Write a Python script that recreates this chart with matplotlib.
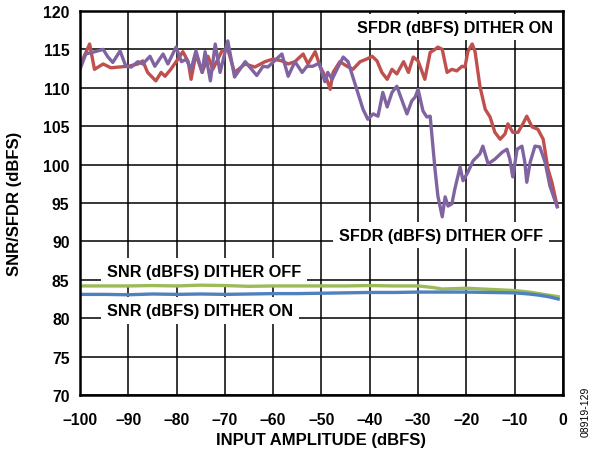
import numpy as np
import matplotlib
matplotlib.use('Agg')
import matplotlib.pyplot as plt

plt.rcParams['font.family'] = ['Liberation Sans', 'DejaVu Sans']
plt.rcParams['font.weight'] = 'bold'

### SFDR dither on (red)
sfdr_on_x = [-100, -98, -97, -95.2, -93.6, -92, -90, -88, -87, -86, -84.3, -83.2, -82.4, -81.2,
             -79.7, -78.7, -77.6, -77, -76, -74.7, -73.5, -72.5, -70.6, -69.4, -68, -65.8, -63.8,
             -61.7, -60, -58.2, -56.9, -55.5, -53.8, -52.8, -51.3, -50.3, -48.9, -48.2, -47.6,
             -46.2, -44.7, -43.5, -42, -40.6, -39.5, -38.5, -37.5, -36.4, -35.4, -34.4, -33, -32,
             -31, -30, -28.6, -27.5, -26.5, -25.9, -25, -24, -23, -22, -20.9, -20.3, -19.7, -18.8,
             -18.2, -17.2, -16.1, -15.1, -14.1, -13, -12, -11.4, -10.4, -9.3, -8.3, -7.5, -6.4,
             -5.2, -4.1, -3.1, -2.3, -1.2]
sfdr_on_y = [112.9, 115.7, 112.4, 113.1, 112.6, 112.7, 112.8, 113.1, 113.5, 112.0, 110.9, 112.0, 111.5, 112.4,
             113.75, 114.7, 113.4, 111.1, 114.4, 112.0, 114.1, 112.4, 114.8, 115.0, 112.0, 113.1, 112.7,
             113.4, 113.75, 113.5, 113.1, 113.4, 114.4, 113.1, 114.7, 112.8, 111.1, 109.8, 112.0,
             113.4, 112.8, 112.4, 113.4, 113.75, 114.1, 113.5, 112.0, 111.1, 112.4, 111.8, 113.4, 112.0,
             114.0, 113.5, 111.1, 114.6, 115.0, 115.3, 115.0, 112.0, 112.4, 112.2, 112.8, 112.7, 114.7, 115.7,
             114.7, 110.2, 107.2, 106.2, 104.2, 103.3, 104.0, 105.3, 104.2, 104.2, 105.3, 106.3, 104.9,
             104.6, 103.3, 99.4, 97.7, 94.6]

### SFDR dither off (purple)
sfdr_off_x = [-100, -98.8, -96.9, -95.2, -94.2, -93.2, -91.7, -90.5, -89.4, -88, -87, -85.5, -84.5,
              -82.8, -81.8, -80.1, -79, -78, -77, -76, -74.7, -74.1, -73, -72, -71, -69.4, -68,
              -65.8, -63.4, -62.1, -61.1, -58.2, -56.9, -55.5, -54, -53, -51.8, -50.5, -49.3, -48.7,
              -47.8, -46.8, -45.5, -44.5, -42.7, -41.4, -40.4, -39.3, -38.3, -37.3, -36.4, -35.4,
              -34.4, -33.3, -32.3, -31.3, -30.6, -30, -29, -28.2, -27.5, -26.5, -25.9, -25, -24.4,
              -23.8, -23, -22.4, -21.3, -20.7, -19.7, -18.6, -17.2, -16.6, -15.5, -14.1, -12.6,
              -11.6, -11, -10.4, -9.5, -8.5, -7.9, -7.5, -6.8, -5.8, -4.8, -3.7, -2.7, -1.2]
sfdr_off_y = [112.4, 114.4, 114.7, 115.0, 114.0, 113.3, 114.8, 112.8, 112.7, 113.4, 113.1, 114.1, 112.8,
              114.4, 113.1, 115.3, 113.4, 113.7, 112.4, 114.8, 112.0, 114.7, 110.9, 115.7, 112.0, 116.1, 111.4,
              113.4, 111.6, 112.8, 112.7, 114.4, 111.5, 113.4, 112.0, 112.8, 112.8, 113.2, 110.8, 112.0,
              111.1, 112.4, 114.0, 113.4, 109.8, 107.2, 105.9, 106.6, 106.3, 109.4, 107.5, 109.4,
              110.2, 108.3, 106.6, 108.3, 108.8, 109.8, 107.0, 106.2, 106.3, 99.4, 95.9, 93.2, 95.8,
              94.6, 94.9, 96.8, 99.7, 97.9, 99.0, 100.5, 101.4, 102.4, 100.1, 100.7, 101.6,
              102.0, 100.7, 98.4, 102.0, 102.4, 100.3, 97.7, 100.3, 102.4, 102.3, 100.3, 97.2, 94.5]

### SNR curves
snr_x = [-100, -95, -90, -85, -80, -75, -70, -65, -60, -55, -50, -45, -40, -35, -30,
         -27, -25, -20, -15, -10, -7, -5, -3, -1]
snr_off_y = [84.2, 84.2, 84.2, 84.25, 84.2, 84.3, 84.25, 84.15, 84.2, 84.2, 84.2, 84.2, 84.25, 84.2, 84.2,
             84.0, 83.8, 83.9, 83.75, 83.6, 83.4, 83.2, 83.0, 82.8]
snr_on_y = [83.1, 83.1, 83.05, 83.15, 83.1, 83.15, 83.1, 83.15, 83.2, 83.2, 83.25, 83.3, 83.35, 83.35, 83.4,
            83.4, 83.4, 83.4, 83.35, 83.3, 83.15, 83.0, 82.8, 82.5]

xticks = list(range(-100, 1, 10))
xticklabels = ['\u2013' + str(-t) if t < 0 else str(t) for t in xticks]
yticks = list(range(70, 121, 5))

fig = plt.figure(figsize=(5.92, 4.52), dpi=100)
ax = fig.add_axes([0.1351, 0.1239, 0.8159, 0.8496])

lw = 2.4
ax.plot(snr_x, snr_off_y, color='#9bbb59', lw=lw, zorder=3, solid_joinstyle='round')
ax.plot(snr_x, snr_on_y, color='#4f81bd', lw=lw, zorder=3, solid_joinstyle='round')
ax.plot(sfdr_on_x, sfdr_on_y, color='#c0504d', lw=lw, zorder=3, solid_joinstyle='round')
ax.plot(sfdr_off_x, sfdr_off_y, color='#8064a2', lw=lw, zorder=4, solid_joinstyle='round')

ax.set_xlim(-100, 0)
ax.set_ylim(70, 120)
ax.set_xticks(xticks)
ax.set_xticklabels(xticklabels)
ax.set_yticks(yticks)
ax.tick_params(axis='x', length=0, labelsize=11.3, pad=12)
ax.tick_params(axis='y', length=0, labelsize=11.3, pad=7.5)
ax.grid(True, color='black', lw=1.1, zorder=0.5)
ax.set_axisbelow(True)
for s in ax.spines.values():
    s.set_linewidth(1.8)
    s.set_zorder(6)

ax.set_xlabel('INPUT AMPLITUDE (dBFS)', fontsize=12, fontweight='bold', labelpad=4)
ax.set_ylabel('SNR/SFDR (dBFS)', fontsize=12, fontweight='bold', labelpad=15)

box = dict(facecolor='white', edgecolor='none', boxstyle='square,pad=0.35')
fs = 11.7
ax.text(-22.4, 117.9, 'SFDR (dBFS) DITHER ON', fontsize=fs, ha='center', va='center', bbox=box, zorder=2)
ax.text(-25.3, 90.8, 'SFDR (dBFS) DITHER OFF', fontsize=fs, ha='center', va='center', bbox=box, zorder=2)
ax.text(-94.4, 86.1, 'SNR (dBFS) DITHER OFF', fontsize=fs, ha='left', va='center', bbox=box, zorder=2)
ax.text(-94.4, 81.0, 'SNR (dBFS) DITHER ON', fontsize=fs, ha='left', va='center', bbox=box, zorder=2)

fig.text(0.99, 0.088, '08919-129', rotation=90, fontsize=7.5, fontweight='normal', ha='center', va='center')

fig.savefig('out.png', dpi=100)
